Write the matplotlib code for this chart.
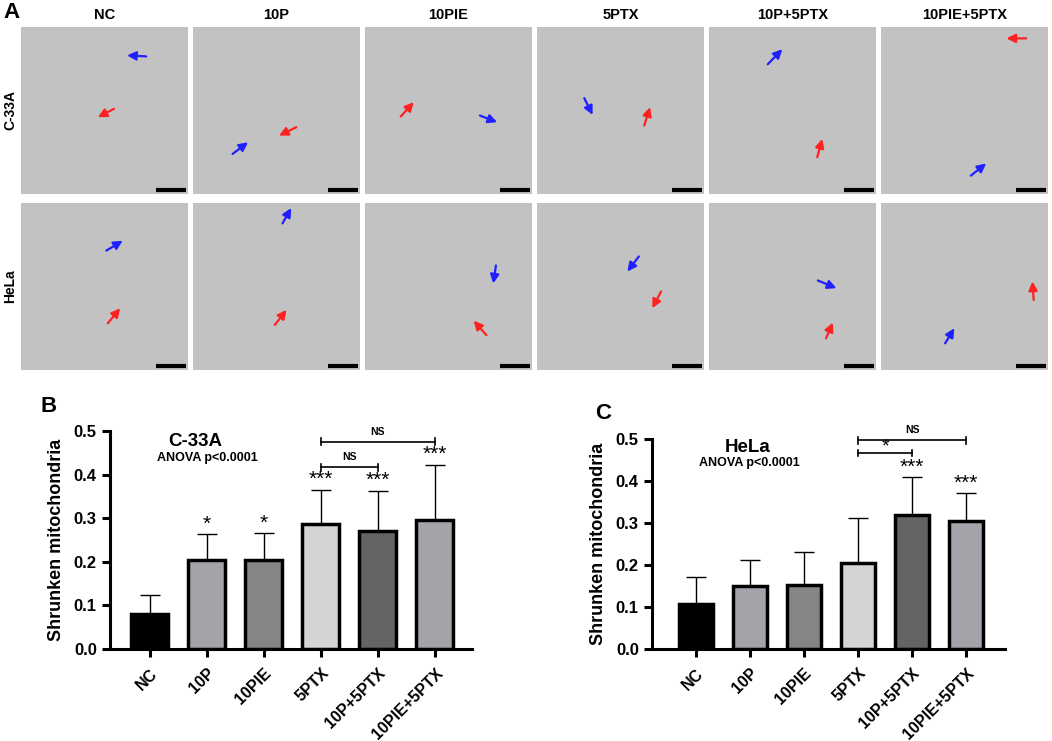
import numpy as np
import matplotlib.pyplot as plt

plt.rcParams['font.family'] = ['Liberation Sans', 'DejaVu Sans']
plt.rcParams['font.weight'] = 'bold'

groups = ['NC', '10P', '10PIE', '5PTX', '10P+5PTX', '10PIE+5PTX']
bar_colors = ['#000000', '#a3a3a9', '#858585', '#d4d4d4', '#646464', '#a3a3a9']

# panel B, C-33A
c33a_mean = [0.080, 0.203, 0.203, 0.286, 0.270, 0.295]
c33a_sd = [0.043, 0.060, 0.062, 0.079, 0.093, 0.128]
c33a_stars = ['', '*', '*', '***', '***', '***']

# panel C, HeLa
hela_mean = [0.108, 0.150, 0.153, 0.205, 0.318, 0.305]
hela_sd = [0.063, 0.061, 0.078, 0.108, 0.091, 0.066]
hela_stars = ['', '', '', '', '***', '***']

# brackets: (from, to, height, label)
c33a_brackets = [(3, 5, 0.475, 'NS'), (3, 4, 0.417, 'NS')]
hela_brackets = [(3, 5, 0.497, 'NS'), (3, 4, 0.467, '*')]

# panel A, arrow (head, tail) in tile fractions, per row then column
rows = ['C-33A', 'HeLa']
arrows = {
    (0, 0): [('b', (0.635, 0.17), (0.75, 0.176)), ('r', (0.46, 0.54), (0.557, 0.49))],
    (0, 1): [('r', (0.515, 0.65), (0.619, 0.60)), ('b', (0.33, 0.69), (0.237, 0.76))],
    (0, 2): [('r', (0.292, 0.45), (0.214, 0.536)), ('b', (0.791, 0.57), (0.688, 0.53))],
    (0, 3): [('b', (0.333, 0.526), (0.283, 0.426)), ('r', (0.677, 0.48), (0.642, 0.59))],
    (0, 4): [('b', (0.439, 0.133), (0.352, 0.223)), ('r', (0.678, 0.67), (0.648, 0.78))],
    (0, 5): [('r', (0.751, 0.068), (0.869, 0.068)), ('b', (0.63, 0.817), (0.538, 0.89))],
    (1, 0): [('b', (0.609, 0.226), (0.511, 0.285)), ('r', (0.594, 0.63), (0.52, 0.72))],
    (1, 1): [('b', (0.588, 0.03), (0.536, 0.122)), ('r', (0.56, 0.64), (0.49, 0.73))],
    (1, 2): [('b', (0.768, 0.482), (0.784, 0.374)), ('r', (0.651, 0.705), (0.727, 0.791))],
    (1, 3): [('b', (0.541, 0.41), (0.61, 0.32)), ('r', (0.69, 0.63), (0.743, 0.53))],
    (1, 4): [('b', (0.763, 0.51), (0.652, 0.464)), ('r', (0.741, 0.716), (0.701, 0.81))],
    (1, 5): [('r', (0.907, 0.47), (0.914, 0.58)), ('b', (0.439, 0.75), (0.384, 0.84))],
}
arrow_colors = {'b': '#1f1fff', 'r': '#ff2020'}

W, H = 1052, 741
fig = plt.figure(figsize=(W / 100, H / 100), dpi=100)

# ---- panel A: image tiles ----
tile_x = [21, 193, 365, 537, 709, 881]
tile_w = 167
tile_y = [27, 203]
tile_h = 167
for r in range(2):
    for c in range(6):
        ax = fig.add_axes([tile_x[c] / W, 1 - (tile_y[r] + tile_h) / H, tile_w / W, tile_h / H])
        ax.set_facecolor('#c2c2c2')
        ax.set_xlim(0, 1)
        ax.set_ylim(1, 0)
        ax.set_xticks([])
        ax.set_yticks([])
        for s in ax.spines.values():
            s.set_visible(False)
        ax.plot([0.81, 0.99], [0.975, 0.975], color='black', lw=3, solid_capstyle='butt')
        for col, head, tail in arrows[(r, c)]:
            ax.annotate('', xy=head, xytext=tail,
                        arrowprops=dict(arrowstyle='-|>', color=arrow_colors[col],
                                        lw=1.6, mutation_scale=13, shrinkA=0, shrinkB=0))
for c in range(6):
    fig.text((tile_x[c] + tile_w / 2) / W, 1 - 15 / H, groups[c], ha='center', va='center',
             fontsize=10.5, fontweight='bold')
fig.text(10 / W, 1 - 110 / H, rows[0], rotation=90, ha='center', va='center', fontsize=10, fontweight='bold')
fig.text(10 / W, 1 - 286 / H, rows[1], rotation=90, ha='center', va='center', fontsize=10, fontweight='bold')
fig.text(3 / W, 1 - 12 / H, 'A', ha='left', va='center', fontsize=16, fontweight='bold')


def bar_panel(rect, means, sds, stars, brackets, xlim, width):
    ax = fig.add_axes(rect)
    x = np.arange(len(groups))
    ax.errorbar(x, means, yerr=[np.zeros(len(sds)), sds], fmt='none', ecolor='black',
                elinewidth=1.0, capsize=7, capthick=1.0, zorder=1)
    ax.bar(x, means, width=width, color=bar_colors, edgecolor='black', linewidth=2.5, zorder=2)
    for xi, m, s, st in zip(x, means, sds, stars):
        if st:
            ax.text(xi, m + s + 0.002, st, ha='center', va='bottom', fontsize=15,
                    fontweight='normal')
    for a, b, h, lab in brackets:
        ax.plot([a, b], [h, h], color='black', lw=1.2, clip_on=False)
        ax.plot([a, a], [h - 0.008, h + 0.008], color='black', lw=1.2, clip_on=False)
        ax.plot([b, b], [h - 0.008, h + 0.008], color='black', lw=1.2, clip_on=False)
        if lab == '*':
            ax.text((a + b) / 2, h - 0.006, lab, ha='center', va='bottom', fontsize=14,
                    fontweight='normal', clip_on=False)
        else:
            ax.text((a + b) / 2, h + 0.012, lab, ha='center', va='bottom', fontsize=7.5,
                    fontweight='bold', clip_on=False)
    ax.set_xlim(*xlim)
    ax.set_ylim(0, 0.5)
    ax.set_yticks(np.arange(0, 0.51, 0.1))
    ax.set_yticklabels(['%.1f' % v for v in np.arange(0, 0.51, 0.1)], fontsize=12, fontweight='bold')
    ax.set_xticks(x)
    ax.set_xticklabels(groups, rotation=45, ha='right', rotation_mode='anchor',
                       fontsize=11.5, fontweight='bold')
    ax.set_ylabel('Shrunken mitochondria', fontsize=13, fontweight='bold', labelpad=6)
    for s in ['top', 'right']:
        ax.spines[s].set_visible(False)
    for s in ['left', 'bottom']:
        ax.spines[s].set_linewidth(2.2)
    ax.tick_params(width=2.2, length=6, direction='out')
    ax.tick_params(axis='x', pad=6)
    return ax


axB = bar_panel([110 / W, 1 - 649 / H, 362 / W, 218 / H], c33a_mean, c33a_sd, c33a_stars,
                c33a_brackets, (-0.7, 5.65), 0.65)
axB.text(0.79, 0.475, 'C-33A', ha='center', va='center', fontsize=13.5, fontweight='bold')
axB.text(1.0, 0.438, 'ANOVA p<0.0001', ha='center', va='center', fontsize=9, fontweight='bold')
fig.text(40 / W, 1 - 407 / H, 'B', ha='left', va='center', fontsize=16, fontweight='bold')

axC = bar_panel([652 / W, 1 - 649 / H, 353 / W, 210 / H], hela_mean, hela_sd, hela_stars,
                hela_brackets, (-0.81, 5.72), 0.63)
axC.text(0.96, 0.479, 'HeLa', ha='center', va='center', fontsize=13.5, fontweight='bold')
axC.text(1.0, 0.443, 'ANOVA p<0.0001', ha='center', va='center', fontsize=9, fontweight='bold')
fig.text(595 / W, 1 - 413 / H, 'C', ha='left', va='center', fontsize=16, fontweight='bold')

fig.savefig('out.png', dpi=100)
